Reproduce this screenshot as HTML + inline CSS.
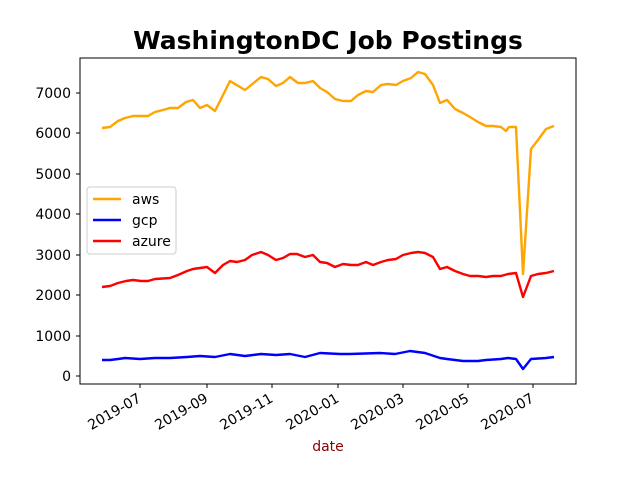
<!DOCTYPE html>
<html><head><meta charset="utf-8"><style>body{margin:0;background:#fff}svg{display:block}text{font-family:"DejaVu Sans","Liberation Sans",sans-serif}</style></head><body>
<svg width="640" height="480" viewBox="0 0 640 480" xmlns="http://www.w3.org/2000/svg">
<rect width="640" height="480" fill="#fff"/>
<text x="328" y="49" text-anchor="middle" font-size="25" font-weight="bold">WashingtonDC Job Postings</text>
<g fill="none" stroke-width="2.4" stroke-linejoin="round">
<polyline stroke="#ffa500" points="102,128 110,127 118,121 125,118 133,116 148,116 155,112 163,110 170,108 178,108 186,102 193,100 200,108 207,105 215,111 230,81 245,90 261,77 268,79 276,86 283,83 290,77 298,83 305,83 313,81 320,88 327,92 335,99 343,101 351,101 358,95 366,91 373,92 381,85 388,84 396,85 403,81 411,78 418,72 425,74 433,85 440,103 447,100 455,109 463,113 470,117 478,122 486,126 493,126 501,127 506,131 509,127 516,127 523,274 531,149 538,140 546,129 554,126"/>
<polyline stroke="#0000ff" points="102,360 110,360 118,359 125,358 140,359 155,358 170,358 187,357 200,356 215,357 230,354 245,356 261,354 276,355 290,354 305,357 320,353 340,354 350,354 380,353 395,354 410,351 425,353 440,358 447,359 463,361 478,361 486,360 501,359 508,358 516,359 523,369 531,359 546,358 554,357"/>
<polyline stroke="#ff0000" points="102,287 110,286 118,283 126,281 133,280 141,281 148,281 155,279 170,278 178,275 187,271 193,269 200,268 207,267 215,273 223,265 230,261 237,262 245,260 252,255 261,252 268,255 276,260 283,258 290,254 297,254 305,257 313,255 320,262 327,263 335,267 343,264 351,265 358,265 366,262 373,265 381,262 388,260 396,259 403,255 411,253 418,252 425,253 433,257 440,269 447,267 455,271 463,274 470,276 478,276 486,277 493,276 501,276 508,274 516,273 523,297 531,276 538,274 546,273 554,271"/>
</g>
<rect x="80" y="58" width="496" height="326" fill="none" stroke="#000" stroke-width="1"/>
<g stroke="#000" stroke-width="1">
<line x1="76" y1="376" x2="80" y2="376"/><line x1="76" y1="336" x2="80" y2="336"/><line x1="76" y1="295" x2="80" y2="295"/><line x1="76" y1="255" x2="80" y2="255"/><line x1="76" y1="214" x2="80" y2="214"/><line x1="76" y1="174" x2="80" y2="174"/><line x1="76" y1="133" x2="80" y2="133"/><line x1="76" y1="93" x2="80" y2="93"/>
<line x1="140" y1="384" x2="140" y2="388"/><line x1="207" y1="384" x2="207" y2="388"/><line x1="272" y1="384" x2="272" y2="388"/><line x1="338" y1="384" x2="338" y2="388"/><line x1="403" y1="384" x2="403" y2="388"/><line x1="468" y1="384" x2="468" y2="388"/><line x1="533" y1="384" x2="533" y2="388"/>
</g>
<g font-size="14" text-anchor="end">
<text x="71" y="381">0</text><text x="71" y="341">1000</text><text x="71" y="300">2000</text><text x="71" y="260">3000</text><text x="71" y="219">4000</text><text x="71" y="179">5000</text><text x="71" y="138">6000</text><text x="71" y="98">7000</text>
<text transform="translate(142,401) rotate(-30)">2019-07</text>
<text transform="translate(209,401) rotate(-30)">2019-09</text>
<text transform="translate(274,401) rotate(-30)">2019-11</text>
<text transform="translate(340,401) rotate(-30)">2020-01</text>
<text transform="translate(405,401) rotate(-30)">2020-03</text>
<text transform="translate(470,401) rotate(-30)">2020-05</text>
<text transform="translate(535,401) rotate(-30)">2020-07</text>
</g>
<text x="328" y="451" text-anchor="middle" font-size="14" fill="#8b0000">date</text>
<rect x="87" y="187" width="89" height="67" rx="3" fill="#fff" fill-opacity="0.8" stroke="#ccc"/>
<g stroke-width="2.4"><line x1="93" y1="199" x2="121" y2="199" stroke="#ffa500"/><line x1="93" y1="220" x2="121" y2="220" stroke="#0000ff"/><line x1="93" y1="241" x2="121" y2="241" stroke="#ff0000"/></g>
<g font-size="14"><text x="132" y="204">aws</text><text x="132" y="225">gcp</text><text x="132" y="246">azure</text></g>
</svg>
</body></html>
